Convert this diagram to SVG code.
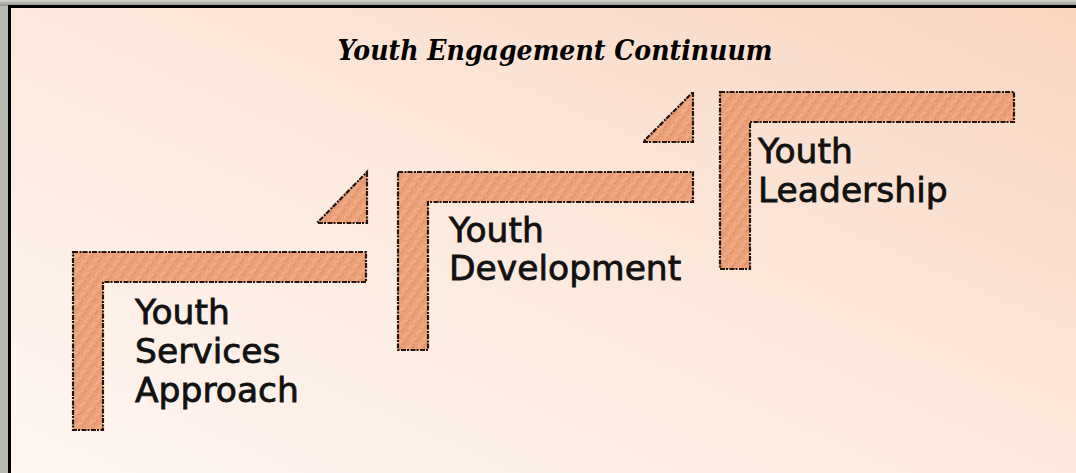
<svg xmlns="http://www.w3.org/2000/svg" width="1076" height="473" viewBox="0 0 1076 473">
  <defs>
    <linearGradient id="bg" x1="0" y1="1" x2="1" y2="0">
      <stop offset="0" stop-color="#FEF7F2"/>
      <stop offset="0.5" stop-color="#FCE9DE"/>
      <stop offset="1" stop-color="#F9D6C1"/>
    </linearGradient>
    <linearGradient id="shadowL" x1="0" y1="0" x2="1" y2="0">
      <stop offset="0" stop-color="#b9bbb3"/>
      <stop offset="1" stop-color="#878a81"/>
    </linearGradient>
    <linearGradient id="shadowT" x1="0" y1="0" x2="0" y2="1">
      <stop offset="0" stop-color="#d2d4ce"/>
      <stop offset="1" stop-color="#8f9289"/>
    </linearGradient>
    <pattern id="hatch" width="9" height="9" patternUnits="userSpaceOnUse" patternTransform="rotate(-55)">
      <rect width="9" height="9" fill="#EBA077"/>
      <line x1="0" y1="2" x2="6" y2="2" stroke="#F4B68E" stroke-width="1.4"/>
      <line x1="3" y1="6" x2="9" y2="6" stroke="#D68C66" stroke-width="1.1"/>
      <line x1="5" y1="4" x2="8" y2="4" stroke="#F7C29E" stroke-width="0.8"/>
    </pattern>
    <style>
      .step { fill: url(#hatch); stroke: #22140c; stroke-width: 2.2; stroke-dasharray: 5 1.5 2 1; stroke-linejoin: miter; }
      .lbl { font-family: "DejaVu Sans", Verdana, sans-serif; font-size: 34.5px; fill: #111; stroke: #111; stroke-width: 0.8; }
      .title { font-family: "DejaVu Serif", "Liberation Serif", serif; font-size: 28.5px; font-weight: bold; font-style: italic; fill: #000; }
    </style>
  </defs>

  <!-- frame shadow -->
  <rect x="0" y="0" width="1076" height="473" fill="url(#shadowL)"/>
  <rect x="0" y="0" width="1076" height="6" fill="url(#shadowT)"/>
  <!-- frame -->
  <rect x="9.5" y="6.5" width="1080" height="480" fill="url(#bg)" stroke="#000" stroke-width="3"/>

  <text class="title" x="555" y="60" text-anchor="middle" textLength="435" lengthAdjust="spacingAndGlyphs">Youth Engagement Continuum</text>

  <g id="connectors">
    <path class="step" d="M367,172 V223 H317 Z"/>
    <path class="step" d="M693,92 V142 H643 Z"/>
  </g>

  <g id="youth-services">
    <path class="step" d="M73,252 H366 V282 H103 V430 H73 Z"/>
    <text class="lbl" x="135" y="324">Youth</text>
    <text class="lbl" x="135" y="363">Services</text>
    <text class="lbl" x="135" y="402">Approach</text>
  </g>

  <g id="youth-development">
    <path class="step" d="M398,172 H693 V202 H428 V350 H398 Z"/>
    <text class="lbl" x="449" y="242">Youth</text>
    <text class="lbl" x="449" y="280">Development</text>
  </g>

  <g id="youth-leadership">
    <path class="step" d="M720,92 H1014 V122 H750 V269 H720 Z"/>
    <text class="lbl" x="758" y="163">Youth</text>
    <text class="lbl" x="758" y="202">Leadership</text>
  </g>
</svg>
